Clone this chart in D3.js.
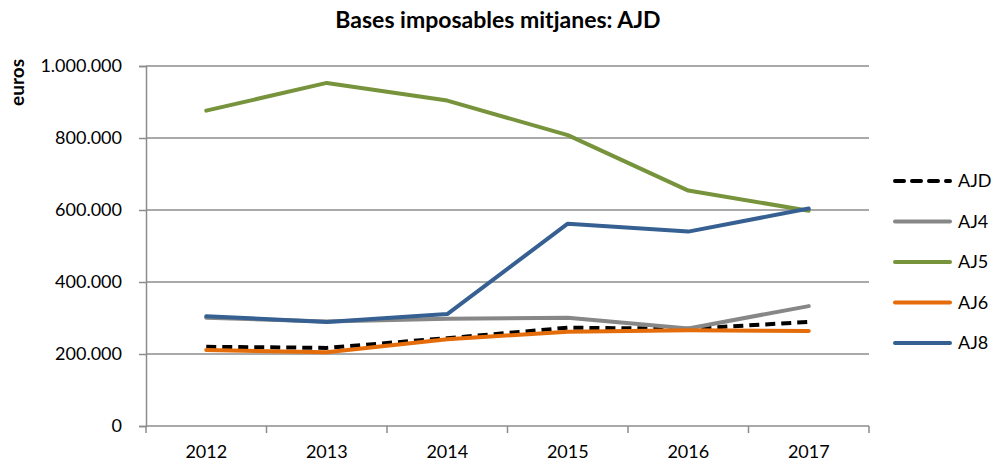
<!DOCTYPE html>
<meta charset="utf-8">
<script src="https://d3js.org/d3.v7.min.js"></script>
<style>
  body { margin: 0; background: #fff; }
  text { font-family: Lato, "Open Sans", sans-serif; fill: #000; }
</style>
<div id="chart"></div>
<script>

// data
var years = ["2012", "2013", "2014", "2015", "2016", "2017"];
var ajd = [220000, 217000, 244000, 273000, 270000, 289000];
var aj4 = [301000, 290000, 298000, 301000, 271000, 333000];
var aj5 = [876000, 953000, 904000, 808000, 654000, 598000];
var aj6 = [211000, 205000, 241000, 262000, 266000, 264000];
var aj8 = [305000, 289000, 311000, 562000, 540000, 604000];
var yTicks = [0, 200000, 400000, 600000, 800000, 1000000];

var series = [
  {name: "AJD", values: ajd, color: "#000000", dash: "10,6"},
  {name: "AJ4", values: aj4, color: "#878787", dash: null},
  {name: "AJ5", values: aj5, color: "#77933c", dash: null},
  {name: "AJ6", values: aj6, color: "#e46c0a", dash: null},
  {name: "AJ8", values: aj8, color: "#376092", dash: null}
];

var W = 992, H = 464;
var plot = {left: 146, right: 869, top: 66, bottom: 426};

var svg = d3.select("#chart").append("svg")
  .attr("width", W)
  .attr("height", H);

var x = d3.scaleBand().domain(years).range([plot.left, plot.right]);
var y = d3.scaleLinear().domain([0, 1000000]).range([plot.bottom, plot.top]);

var fmt = d3.formatLocale({decimal: ",", thousands: ".", grouping: [3], currency: ["", ""]}).format(",");

// gridlines
svg.append("g")
  .selectAll("line")
  .data(yTicks.filter(function(d) { return d > 0; }))
  .join("line")
    .attr("x1", plot.left).attr("x2", plot.right)
    .attr("y1", function(d) { return y(d); })
    .attr("y2", function(d) { return y(d); })
    .attr("stroke", "#8c8c8c")
    .attr("stroke-width", 1.5);

// y axis
var yAxis = svg.append("g")
  .attr("transform", "translate(" + plot.left + ",0)")
  .call(d3.axisLeft(y).tickValues(yTicks).tickFormat(fmt).tickSize(7).tickPadding(17));
yAxis.select(".domain").attr("stroke", "#8c8c8c").attr("stroke-width", 1.5);
yAxis.selectAll(".tick line").attr("stroke", "#8c8c8c").attr("stroke-width", 1.5);
yAxis.selectAll(".tick text")
  .attr("font-size", "18px")
  .attr("font-family", "Lato, sans-serif")
  .attr("fill", "#000");

// x axis: ticks sit at band edges
var xAxis = svg.append("g")
  .attr("transform", "translate(0," + plot.bottom + ")")
  .call(d3.axisBottom(x).tickSize(0).tickPadding(19));
xAxis.select(".domain").remove();
xAxis.append("line")
  .attr("x1", plot.left).attr("x2", plot.right)
  .attr("stroke", "#8c8c8c").attr("stroke-width", 1.5);
xAxis.selectAll(".edge")
  .data(years.concat(["end"]))
  .join("line")
    .attr("class", "edge")
    .attr("x1", function(d, i) { return plot.left + i * x.bandwidth(); })
    .attr("x2", function(d, i) { return plot.left + i * x.bandwidth(); })
    .attr("y1", 0).attr("y2", 7)
    .attr("stroke", "#8c8c8c").attr("stroke-width", 1.5);
xAxis.selectAll(".tick text")
  .attr("font-size", "18px")
  .attr("font-family", "Lato, sans-serif")
  .attr("fill", "#000");

// lines
var line = d3.line()
  .x(function(d, i) { return x(years[i]) + x.bandwidth() / 2; })
  .y(function(d) { return y(d); });

svg.append("g")
  .selectAll("path")
  .data(series)
  .join("path")
    .attr("d", function(s) { return line(s.values); })
    .attr("fill", "none")
    .attr("stroke", function(s) { return s.color; })
    .attr("stroke-width", 4)
    .attr("stroke-linejoin", "round")
    .attr("stroke-linecap", function(s) { return s.dash ? "butt" : "round"; })
    .attr("stroke-dasharray", function(s) { return s.dash; });

// legend
var legend = svg.append("g")
  .selectAll("g")
  .data(series)
  .join("g")
    .attr("transform", function(d, i) { return "translate(893," + (181 + i * 40.5) + ")"; });
legend.append("line")
  .attr("x1", 2).attr("x2", 57)
  .attr("stroke", function(s) { return s.color; })
  .attr("stroke-width", 4)
  .attr("stroke-linecap", "round")
  .attr("stroke-dasharray", function(s) { return s.dash ? "9,8" : null; });
legend.append("text")
  .attr("x", 65)
  .attr("dy", "0.35em")
  .attr("font-size", "18px")
  .text(function(s) { return s.name; });

// title
svg.append("text")
  .attr("x", 498)
  .attr("y", 28)
  .attr("text-anchor", "middle")
  .attr("font-size", "23px")
  .attr("font-weight", "bold")
  .text("Bases imposables mitjanes: AJD");

// y axis title
svg.append("text")
  .attr("transform", "translate(24,59) rotate(-90)")
  .attr("text-anchor", "end")
  .attr("font-size", "19px")
  .attr("font-weight", "bold")
  .text("euros");

</script>
